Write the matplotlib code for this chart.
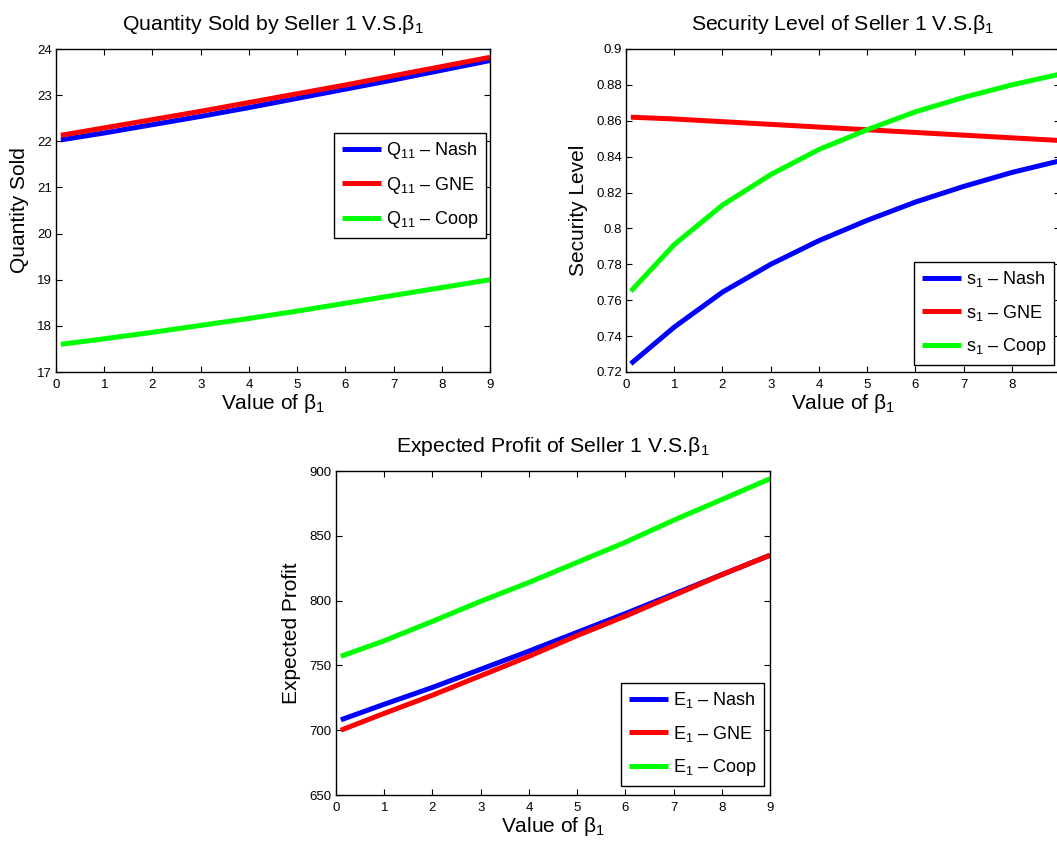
import matplotlib
matplotlib.use("Agg")
import matplotlib.pyplot as plt

plt.rcParams['font.family'] = ['Liberation Sans', 'DejaVu Sans']
plt.rcParams['mathtext.fontset'] = 'custom'
plt.rcParams['mathtext.rm'] = 'Liberation Sans'
plt.rcParams['mathtext.it'] = 'Liberation Sans'
plt.rcParams['mathtext.bf'] = 'Liberation Sans:bold'

beta = [0.1, 1, 2, 3, 4, 5, 6, 7, 8, 9]

q_nash = [22.03, 22.18, 22.36, 22.54, 22.73, 22.93, 23.13, 23.33, 23.54, 23.75]
q_gne = [22.13, 22.29, 22.47, 22.65, 22.84, 23.03, 23.22, 23.42, 23.62, 23.82]
q_coop = [17.60, 17.72, 17.86, 18.01, 18.16, 18.32, 18.49, 18.66, 18.83, 19.00]

s_nash = [0.7246, 0.745, 0.7645, 0.780, 0.7932, 0.8045, 0.8147, 0.8234, 0.8312, 0.8377]
s_gne = [0.862, 0.861, 0.8595, 0.858, 0.8565, 0.855, 0.8535, 0.852, 0.8505, 0.849]
s_coop = [0.765, 0.791, 0.813, 0.830, 0.844, 0.855, 0.865, 0.873, 0.880, 0.886]

e_nash = [708, 720, 733, 747, 761, 775.5, 790, 805, 820, 835]
e_gne = [700, 713, 727, 742, 757, 773, 788, 804, 820, 835]
e_coop = [757, 769, 784, 799.5, 814, 829.5, 845, 862, 878, 894]

q_ticks = [17, 18, 19, 20, 21, 22, 23, 24]
s_ticks = [0.72, 0.74, 0.76, 0.78, 0.8, 0.82, 0.84, 0.86, 0.88, 0.9]
s_ticklabels = ['0.72', '0.74', '0.76', '0.78', '0.8', '0.82', '0.84', '0.86', '0.88', '0.9']
e_ticks = [650, 700, 750, 800, 850, 900]
x_ticks = [0, 1, 2, 3, 4, 5, 6, 7, 8, 9]

W, H = 1057, 846
fig = plt.figure(figsize=(W / 100, H / 100), dpi=100)

def px_axes(x0, y0, x1, y1):
    return fig.add_axes([x0 / W, 1 - y1 / H, (x1 - x0) / W, (y1 - y0) / H])

ax1 = px_axes(56, 49, 490, 372)
ax2 = px_axes(626, 49, 1060, 372)
ax3 = px_axes(336, 471, 770, 795)

B = 'Value of $\\mathrm{β}_{1}$'
lw = 3.6

def style(ax, title, ylabel, yticks, ylim, yticklabels=None):
    ax.set_xlim(0, 9)
    ax.set_ylim(*ylim)
    ax.set_xticks(x_ticks)
    ax.set_yticks(yticks)
    if yticklabels is not None:
        ax.set_yticklabels(yticklabels)
    ax.tick_params(direction='in', length=4, width=0.8, labelsize=9.5,
                   top=True, right=True, colors='black')
    ax.tick_params(axis='x', pad=5)
    ax.tick_params(axis='y', pad=3)
    for sp in ax.spines.values():
        sp.set_linewidth(1.0)
        sp.set_color('black')
    ax.set_title(title, fontsize=15.3, pad=14)
    ax.set_xlabel(B, fontsize=15, labelpad=1)
    ax.set_ylabel(ylabel, fontsize=15, labelpad=6)

def legend(ax, labels, corner):
    leg = ax.legend(labels, loc='upper right',
                    bbox_to_anchor=(corner[0] / W, 1 - corner[1] / H),
                    bbox_transform=fig.transFigure, borderaxespad=0,
                    fontsize=13, frameon=True, fancybox=False, edgecolor='black',
                    framealpha=1, handlelength=2.2, handletextpad=0.25,
                    labelspacing=0.75, borderpad=0.4)
    leg.get_frame().set_linewidth(1.0)

# Top-left
ax1.plot(beta, q_nash, color='#0000ff', lw=lw, solid_capstyle='butt')
ax1.plot(beta, q_gne, color='#ff0000', lw=lw, solid_capstyle='butt')
ax1.plot(beta, q_coop, color='#00ff00', lw=lw, solid_capstyle='butt')
style(ax1, 'Quantity Sold by Seller 1 V.S.$\\mathrm{β}_{1}$', 'Quantity Sold', q_ticks, (17, 24))
legend(ax1, ['$\\mathrm{Q}_{11}$ – Nash', '$\\mathrm{Q}_{11}$ – GNE', '$\\mathrm{Q}_{11}$ – Coop'], (486, 133))

# Top-right
ax2.plot(beta, s_nash, color='#0000ff', lw=lw, solid_capstyle='butt')
ax2.plot(beta, s_gne, color='#ff0000', lw=lw, solid_capstyle='butt')
ax2.plot(beta, s_coop, color='#00ff00', lw=lw, solid_capstyle='butt')
style(ax2, 'Security Level of Seller 1 V.S.$\\mathrm{β}_{1}$', 'Security Level', s_ticks, (0.72, 0.9), s_ticklabels)
legend(ax2, ['$\\mathrm{s}_{1}$ – Nash', '$\\mathrm{s}_{1}$ – GNE', '$\\mathrm{s}_{1}$ – Coop'], (1054, 262))

# Bottom
ax3.plot(beta, e_nash, color='#0000ff', lw=lw, solid_capstyle='butt')
ax3.plot(beta, e_gne, color='#ff0000', lw=lw, solid_capstyle='butt')
ax3.plot(beta, e_coop, color='#00ff00', lw=lw, solid_capstyle='butt')
style(ax3, 'Expected Profit of Seller 1 V.S.$\\mathrm{β}_{1}$', 'Expected Profit', e_ticks, (650, 900))
legend(ax3, ['$\\mathrm{E}_{1}$ – Nash', '$\\mathrm{E}_{1}$ – GNE', '$\\mathrm{E}_{1}$ – Coop'], (764, 683))

fig.savefig('out.png', dpi=100)
